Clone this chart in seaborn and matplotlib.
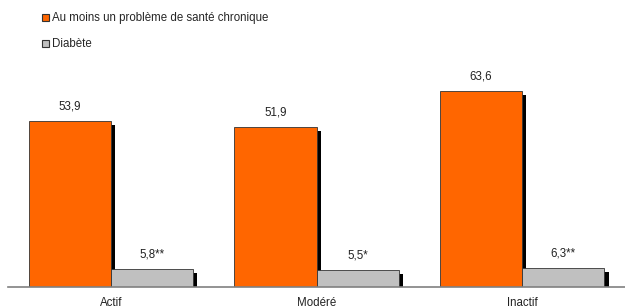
import pandas as pd
import numpy as np
import matplotlib
matplotlib.use('Agg')
import matplotlib.pyplot as plt
import matplotlib.patheffects as pe
from matplotlib.patches import Patch
import seaborn as sns

# data
niveaux = ['Actif', 'Modéré', 'Inactif']
series = ['Au moins un problème de santé chronique', 'Diabète']
chronique = [53.9, 51.9, 63.6]
diabete = [5.8, 5.5, 6.3]
chronique_labels = ['53,9', '51,9', '63,6']
diabete_labels = ['5,8**', '5,5*', '6,3**']
couleurs = ['#FF6600', '#C0C0C0']

df = pd.DataFrame({
    'niveau': niveaux * 2,
    'serie': [series[0]] * 3 + [series[1]] * 3,
    'pct': chronique + diabete,
})

sns.set_style('white')
plt.rcParams['font.family'] = ['Liberation Sans', 'DejaVu Sans']
fs = 8.3

fig = plt.figure(figsize=(6.25, 3.08), dpi=100)
ax = fig.add_axes([8 / 625, 21 / 308, 1 - 8 / 625, 0.70])

sns.barplot(data=df, x='niveau', y='pct', hue='serie', palette=couleurs,
            saturation=1, width=0.8, edgecolor='#333333', linewidth=0.6,
            legend=False, ax=ax)

shadow = [pe.SimplePatchShadow(offset=(3, -3), shadow_rgbFace='black', alpha=1), pe.Normal()]
for p in ax.patches:
    p.set_path_effects(shadow)

for cont, labs in zip(ax.containers, [chronique_labels, diabete_labels]):
    ax.bar_label(cont, labels=labs, padding=6, fontsize=fs, color='#222222')

ax.set_xlim(-0.5, 2.5)
ax.set_ylim(0, 70)
ax.set_xlabel('')
ax.set_ylabel('')
ax.set_yticks([])
ax.tick_params(axis='x', length=0, labelsize=fs, pad=7, colors='#222222')
for s in ['top', 'right', 'left']:
    ax.spines[s].set_visible(False)
ax.spines['bottom'].set_color('#808080')
ax.spines['bottom'].set_linewidth(1.2)

handles = [Patch(facecolor=c, edgecolor='#333333', linewidth=0.8) for c in couleurs]
fig.legend(handles, series, loc='upper left', bbox_to_anchor=(32 / 625, 1 - 2 / 308),
           frameon=False, fontsize=fs, handlelength=0.55, handleheight=0.55,
           handletextpad=0.3, labelspacing=1.2)

fig.savefig('out.png', dpi=100)
